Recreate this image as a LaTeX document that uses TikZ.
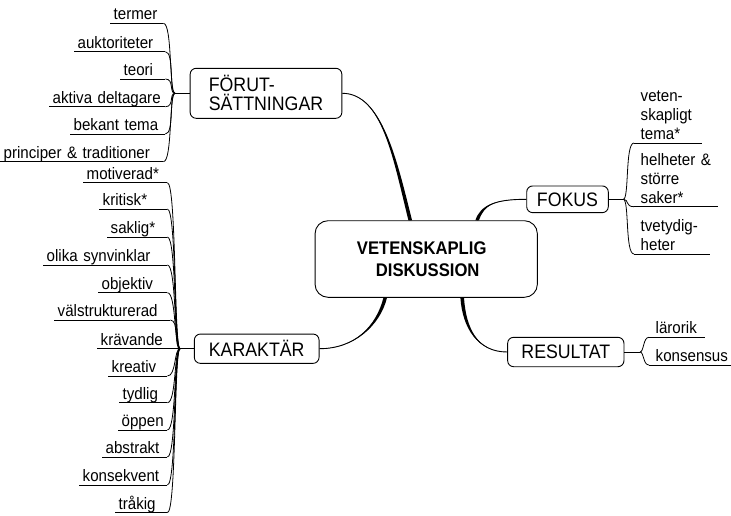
\documentclass[tikz,border=0pt]{standalone}
\usepackage{fontspec}
\setmainfont{Liberation Sans}[FakeStretch=0.91]
\usetikzlibrary{calc}
\newcommand\leaffont{\fontsize{16.6pt}{19pt}\selectfont}
\newcommand\topicfont{\fontsize{19.5pt}{19pt}\selectfont}
\newcommand\corefont{\fontsize{18.3pt}{21.7pt}\selectfont\bfseries}

\begin{document}
\begin{tikzpicture}[x=1pt,y=-1pt,
  topic/.style={draw, line width=0.9pt, rounded corners=6pt, font=\topicfont, inner sep=0pt},
  leaf/.style={anchor=south west, text width=#1, align=left, inner xsep=3.5pt,
               inner ysep=0pt, font=\leaffont, text depth=3.5pt,
               execute at end node=\rule[-3.5pt]{0pt}{0pt}},
  rleaf/.style={leaf=#1, inner xsep=6.5pt},
  mline/.style={text depth=},
  twig/.style={line width=0.8pt},
  stem/.style={line width=0.9pt},
]
\useasboundingbox (0,0) rectangle (731,515);

% central topic and main branches
\node[draw, line width=0.9pt, rounded corners=13pt, minimum width=222.3pt,
      minimum height=76.6pt, font=\corefont, align=center] (c) at (426.2,259)
      {\hspace*{-9pt}VETENSKAPLIG\\\hspace*{3pt}DISKUSSION};
\node[topic, minimum width=151.7pt, minimum height=50pt, align=left] (f) at (266,93.3) {FÖRUT-\\SÄTTNINGAR};
\node[topic, minimum width=124.7pt, minimum height=29.3pt] (k) at (256.7,348.7) {KARAKTÄR};
\node[topic, minimum width=81.6pt, minimum height=26.7pt] (o) at (567.5,199.3) {FOKUS};
\node[topic, minimum width=116.3pt, minimum height=29.4pt] (r) at (565.8,352) {RESULTAT};

% attachment points on the central topic
\coordinate (cF) at ([xshift=-16pt]c.north);
\coordinate (cO) at ([xshift=51pt]c.north);
\coordinate (cR) at ([xshift=36pt]c.south);
\coordinate (cK) at ([xshift=-41pt]c.south);

% tapered main connectors
\fill (f.east) .. controls +(40,0) and +(-15,-60) .. ([xshift=-1.8pt]cF)
      -- ([xshift=1.8pt]cF) .. controls +(-15,-60) and +(40,0) .. (f.east) -- cycle;
\draw[stem] (f.east) .. controls +(40,0) and +(-15,-60) .. (cF);
\fill ([xshift=-1.8pt]cO) .. controls +(5,-15) and +(-32,0) .. (o.west)
      .. controls +(-32,0) and +(5,-15) .. ([xshift=1.8pt]cO) -- cycle;
\draw[stem] (cO) .. controls +(5,-15) and +(-32,0) .. (o.west);
\fill ([xshift=-1.8pt]cR) .. controls +(2,30) and +(-30,0) .. (r.west)
      .. controls +(-30,0) and +(2,30) .. ([xshift=1.8pt]cR) -- cycle;
\draw[stem] (cR) .. controls +(2,30) and +(-30,0) .. (r.west);
\fill ([xshift=-1.8pt]cK) .. controls +(-7,28) and +(35,0) .. (k.east)
      .. controls +(35,0) and +(-7,28) .. ([xshift=1.8pt]cK) -- cycle;
\draw[stem] (cK) .. controls +(-7,28) and +(35,0) .. (k.east);

% branch points
\coordinate (bF) at (175,93.3);
\coordinate (bK) at (180,348.7);
\coordinate (bO) at (623.3,199.3);
\coordinate (bR) at (640,352);
\draw[twig] (bF) -- (f.west);
\draw[twig] (bK) -- (k.west);
\draw[twig] (bO) -- (o.east);
\draw[twig] (bR) -- (r.east);

% FÖRUTSÄTTNINGAR
\node[leaf=46pt]  (p1) at (110,23.3)  {termer};
\node[leaf=84pt]  (p2) at (74,51.7)   {auktoriteter};
\node[leaf=38pt]  (p3) at (120,79)    {teori};
\node[leaf=109pt] (p4) at (49,106.7)  {aktiva~deltagare};
\node[leaf=88pt]  (p5) at (70,134)    {bekant~tema};
\node[leaf=156pt] (p6) at (0,161.7)   {principer~\&~traditioner};

% KARAKTÄR
\node[leaf=77pt]  (q1)  at (83,182.7)  {motiverad*};
\node[leaf=61pt]  (q2)  at (99,209)    {kritisk*};
\node[leaf=53pt]  (q3)  at (107,237)   {saklig*};
\node[leaf=117pt] (q4)  at (43,265)    {olika~synvinklar};
\node[leaf=62pt]  (q5)  at (98,292.7)  {objektiv};
\node[leaf=109pt] (q6)  at (54,320)    {välstrukturerad};
\node[leaf=66pt]  (q7)  at (97,348.7)  {krävande};
\node[leaf=52pt]  (q8)  at (108,376)   {kreativ};
\node[leaf=41pt]  (q9)  at (119,402.7) {tydlig};
\node[leaf=42pt]  (q10) at (118,430)   {öppen};
\node[leaf=58pt]  (q11) at (102,457)   {abstrakt};
\node[leaf=81pt]  (q12) at (79,485)    {konsekvent};
\node[leaf=45pt]  (q13) at (115,512.7) {tråkig};

% FOKUS
\node[rleaf=55pt, mline] (s1) at (634,143)   {veten-\\skapligt\\tema*};
\node[rleaf=71pt, mline] (s2) at (634,206.7) {helheter~\&\\större\\saker*};
\node[rleaf=63pt, mline] (s3) at (634,254)   {tvetydig-\\heter};

% RESULTAT
\node[rleaf=43pt] (t1) at (649,337.3) {lärorik};
\node[rleaf=69pt] (t2) at (649,365)   {konsensus};

% underlines and twigs
\foreach \n in {p1,p2,p3,p4,p5,p6} {
  \draw[twig] (\n.south west) -- (\n.south east);
  \draw[twig] (bF) .. controls +(-6,0) and +(9,0) .. (\n.south east);
}
\foreach \n in {q1,q2,q3,q4,q5,q6,q7,q8,q9,q10,q11,q12,q13} {
  \draw[twig] (\n.south west) -- (\n.south east);
  \draw[twig] (bK) .. controls +(-6,0) and +(9,0) .. (\n.south east);
}
\foreach \n in {s1,s2,s3} {
  \draw[twig] (\n.south west) -- (\n.south east);
  \draw[twig] (bO) .. controls +(6,0) and +(-9,0) .. (\n.south west);
}
\foreach \n in {t1,t2} {
  \draw[twig] (\n.south west) -- (\n.south east);
  \draw[twig] (bR) .. controls +(4,0) and +(-6,0) .. (\n.south west);
}
\end{tikzpicture}
\end{document}
